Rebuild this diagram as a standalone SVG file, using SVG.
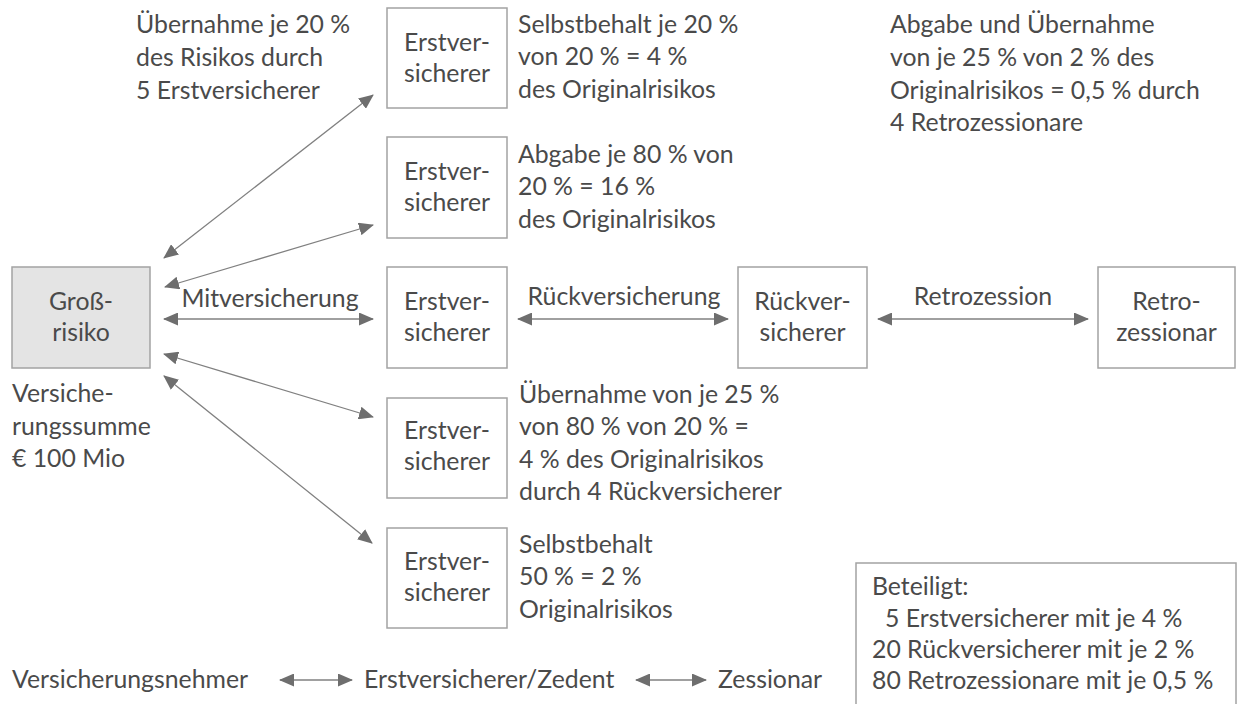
<svg xmlns="http://www.w3.org/2000/svg" width="1237" height="704" viewBox="0 0 1237 704">
<style>
text{font-family:Lato,"Liberation Sans",sans-serif;font-size:24.8px;fill:#4a4a4a}
.c{text-anchor:middle}
.box{fill:#fff;stroke:#a3a3a3;stroke-width:1.5}
.grey{fill:#e4e4e4}
.con line{stroke:#808080;stroke-width:1.3;marker-start:url(#ah);marker-end:url(#ah)}
</style>
<defs>
<marker id="ah" viewBox="0 0 15 13" refX="14" refY="6.5" markerWidth="15" markerHeight="13" markerUnits="userSpaceOnUse" orient="auto-start-reverse">
<path d="M0,0 L15,6.5 L0,13 z" fill="#6e6e6e"/>
</marker>
</defs>
<rect width="1237" height="704" fill="#fff"/>

<g id="gross">
<rect class="box grey" x="12" y="267" width="138" height="101"/>
<text class="c" x="81" y="310">Groß-</text>
<text class="c" x="81" y="341">risiko</text>
</g>
<g id="ev1">
<rect class="box" x="387" y="8" width="120" height="100"/>
<text class="c" x="447" y="51">Erstver-</text>
<text class="c" x="447" y="82">sicherer</text>
</g>
<g id="ev2">
<rect class="box" x="387" y="137" width="120" height="101"/>
<text class="c" x="447" y="180">Erstver-</text>
<text class="c" x="447" y="211">sicherer</text>
</g>
<g id="ev3">
<rect class="box" x="387" y="267" width="120" height="101"/>
<text class="c" x="447" y="310">Erstver-</text>
<text class="c" x="447" y="341">sicherer</text>
</g>
<g id="ev4">
<rect class="box" x="387" y="398" width="120" height="100"/>
<text class="c" x="447" y="439">Erstver-</text>
<text class="c" x="447" y="470">sicherer</text>
</g>
<g id="ev5">
<rect class="box" x="387" y="528" width="120" height="100"/>
<text class="c" x="447" y="570">Erstver-</text>
<text class="c" x="447" y="601">sicherer</text>
</g>
<g id="rv">
<rect class="box" x="738" y="267" width="129" height="101"/>
<text class="c" x="802.5" y="310">Rückver-</text>
<text class="c" x="802.5" y="341">sicherer</text>
</g>
<g id="rz">
<rect class="box" x="1098" y="267" width="137" height="101"/>
<text class="c" x="1166.5" y="310">Retro-</text>
<text class="c" x="1166.5" y="341">zessionar</text>
</g>

<g id="connectors" class="con">
<line x1="164" y1="258" x2="373" y2="95"/>
<line x1="165" y1="287" x2="373" y2="225"/>
<line x1="164" y1="319" x2="373" y2="319"/>
<line x1="164" y1="354" x2="373" y2="417"/>
<line x1="164" y1="376" x2="372" y2="543"/>
<line x1="518" y1="319" x2="728" y2="319"/>
<line x1="878" y1="319" x2="1088" y2="319"/>
<line x1="280" y1="680" x2="352" y2="680"/>
<line x1="636" y1="680" x2="706" y2="680"/>
</g>

<g id="labels">
<text class="c" x="270" y="307">Mitversicherung</text>
<text class="c" x="624" y="305">Rückversicherung</text>
<text class="c" x="983" y="305">Retrozession</text>
</g>

<g id="notes">
<text x="136" y="33">Übernahme je 20 %</text>
<text x="136" y="66">des Risikos durch</text>
<text x="136" y="99">5 Erstversicherer</text>

<text x="518" y="33">Selbstbehalt je 20 %</text>
<text x="518" y="65">von 20 % = 4 %</text>
<text x="518" y="98">des Originalrisikos</text>

<text x="518" y="163">Abgabe je 80 % von</text>
<text x="518" y="195">20 % = 16 %</text>
<text x="518" y="228">des Originalrisikos</text>

<text x="890" y="33">Abgabe und Übernahme</text>
<text x="890" y="66">von je 25 % von 2 % des</text>
<text x="890" y="99">Originalrisikos = 0,5 % durch</text>
<text x="890" y="131">4 Retrozessionare</text>

<text x="519" y="403">Übernahme von je 25 %</text>
<text x="519" y="435">von 80 % von 20 % =</text>
<text x="519" y="468">4 % des Originalrisikos</text>
<text x="519" y="500">durch 4 Rückversicherer</text>

<text x="519" y="553">Selbstbehalt</text>
<text x="519" y="585">50 % = 2 %</text>
<text x="519" y="618">Originalrisikos</text>

<text x="12" y="402">Versiche-</text>
<text x="12" y="435">rungssumme</text>
<text x="12" y="467">€ 100 Mio</text>
</g>

<g id="legend">
<text x="12" y="688">Versicherungsnehmer</text>
<text x="364" y="688">Erstversicherer/Zedent</text>
<text x="718" y="688">Zessionar</text>
</g>

<g id="beteiligt">
<rect class="box" x="856" y="563" width="380" height="160"/>
<text x="872" y="595">Beteiligt:</text>
<text x="885" y="627">5 Erstversicherer mit je 4 %</text>
<text x="872" y="658">20 Rückversicherer mit je 2 %</text>
<text x="872" y="689">80 Retrozessionare mit je 0,5 %</text>
</g>
</svg>
